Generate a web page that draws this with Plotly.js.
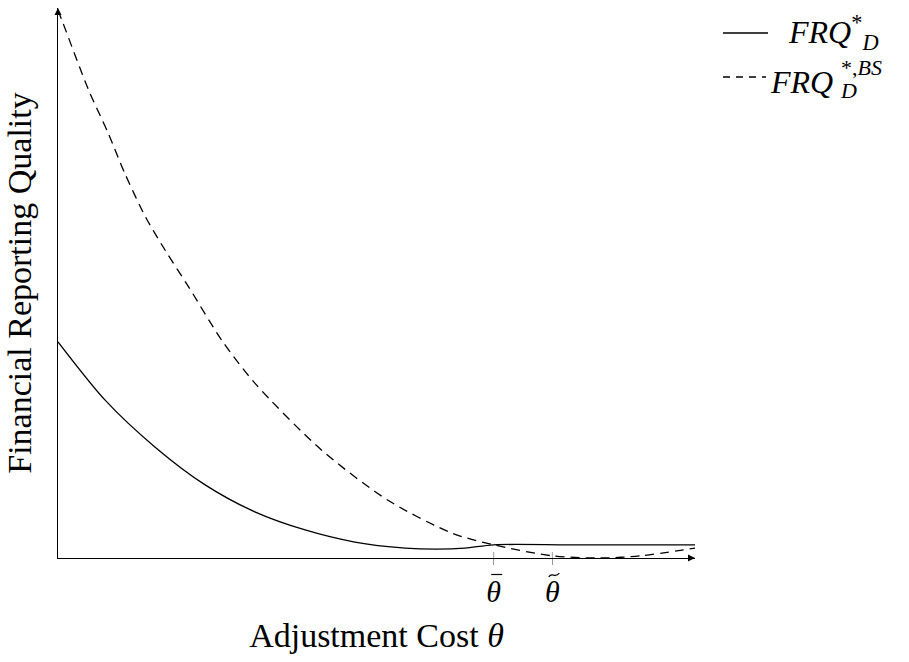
<!DOCTYPE html>
<html>
<head>
<meta charset="utf-8">
<script src="https://cdn.plot.ly/plotly-3.0.1.min.js"></script>
<style>html,body{margin:0;padding:0;background:#fff;}#chart{width:909px;height:662px;}</style>
</head>
<body>
<div id="chart"></div>
<script>
// Adjustment cost (x) and financial reporting quality (y)
const thetaD = [0, 0.74, 1.52, 2.31, 3.09, 3.88, 4.66, 5.45, 5.95, 6.39, 6.84, 8.0, 9.0, 10];
const frqD   = [3.93, 2.87, 2.02, 1.33, 0.84, 0.51, 0.29, 0.18, 0.16, 0.18, 0.24, 0.24, 0.24, 0.24];
const thetaBS = [0, 0.08, 0.48, 0.79, 1.05, 1.37, 1.68, 2.05, 2.57, 3.09, 4.14, 5.18, 6.19, 6.84, 7.76, 8.51, 9.14, 10];
const frqBS   = [9.96, 9.72, 8.51, 7.72, 6.99, 6.21, 5.60, 4.93, 3.96, 3.18, 1.96, 1.05, 0.45, 0.24, 0.04, 0.0, 0.04, 0.18];
const tickVals = [6.84, 7.76];
const tickBase = ['θ', 'θ'];
const tickAccents = ['bar', 'tilde'];
const seriesNames = ['FRQ', 'FRQ'];
const seriesSup = ['*', '*,<i>BS</i>'];
const seriesSub = ['<i>D</i>', '<i>D</i>'];
const xTitle = 'Adjustment Cost <i>θ</i>';
const yTitle = 'Financial Reporting Quality';
const xMax = 10, yMax = 10;

const serif = 'Liberation Serif, DejaVu Serif, serif';

const traces = [
  {x: thetaD, y: frqD, mode: 'lines', line: {color: '#000', width: 1.3, shape: 'spline', smoothing: 0.8}, showlegend: false, hoverinfo: 'skip'},
  {x: thetaBS, y: frqBS, mode: 'lines', line: {color: '#000', width: 1.3, dash: '9px,6px', shape: 'spline', smoothing: 0.8}, showlegend: false, hoverinfo: 'skip'},
  // axis arrowheads at the ends of the axes
  {x: [0, xMax], y: [yMax, 0], mode: 'markers', cliponaxis: false, showlegend: false, hoverinfo: 'skip',
   marker: {symbol: ['arrow-up', 'arrow-right'], size: 7, color: '#000', line: {width: 0}}}
];

function px(x){return (x-58)/637;}
function py(y){return (558-y)/550;}
const pxPerUnit = 63.7;
function dx(v, off){return v + off / pxPerUnit;}

const shapes = tickVals.map(v => ({type: 'line', xref: 'x', yref: 'y', x0: v, x1: v, y0: 0, y1: 0.11, line: {color: '#999', width: 1}}));
// accents over the tick symbols
tickVals.forEach((v, i) => {
  if (tickAccents[i] === 'bar') {
    shapes.push({type: 'line', xref: 'x', yref: 'paper', x0: dx(v, -2.5), x1: dx(v, 8.5), y0: py(574.5), y1: py(574.5), line: {color: '#000', width: 1.2}});
  } else {
    const a = -3.5;
    const path = 'M ' + dx(v, a) + ',' + py(577) +
      ' C ' + dx(v, a + 3) + ',' + py(571.5) + ' ' + dx(v, a + 6.5) + ',' + py(579) + ' ' + dx(v, a + 10.5) + ',' + py(573);
    shapes.push({type: 'path', xref: 'x', yref: 'paper', path: path, line: {color: '#000', width: 1.2}});
  }
});
// legend samples
shapes.push({type: 'line', xref: 'paper', yref: 'paper', x0: px(723), x1: px(768), y0: py(33), y1: py(33), line: {color: '#000', width: 1.3}});
shapes.push({type: 'line', xref: 'paper', yref: 'paper', x0: px(723), x1: px(766), y0: py(77), y1: py(77), line: {color: '#000', width: 1.3, dash: '7px,6px'}});

const ann = [
  // legend row 1
  {x: px(786), y: py(33), xref: 'paper', yref: 'paper', xanchor: 'left', yanchor: 'middle', showarrow: false,
   text: '<i>' + seriesNames[0] + '</i><sup>' + seriesSup[0] + '</sup><sub>' + seriesSub[0] + '</sub>', font: {family: serif, size: 32, color: '#000'}},
  // legend row 2
  {x: px(768), y: py(82), xref: 'paper', yref: 'paper', xanchor: 'left', yanchor: 'middle', showarrow: false, text: '<i>' + seriesNames[1] + '</i>', font: {family: serif, size: 32, color: '#000'}},
  {x: px(838), y: py(79), xref: 'paper', yref: 'paper', xanchor: 'left', yanchor: 'middle', align: 'left', showarrow: false,
   text: '<span style="font-size:22px">' + seriesSup[1] + '</span><br><span style="font-size:22px">' + seriesSub[1] + '</span>', font: {family: serif, size: 18, color: '#000'}}
];

const layout = {
  width: 909, height: 662,
  margin: {l: 58, r: 214, t: 8, b: 104},
  paper_bgcolor: '#fff', plot_bgcolor: '#fff',
  showlegend: false,
  xaxis: {
    range: [0, xMax], showgrid: false, zeroline: false, showline: true, linecolor: '#000', linewidth: 1.3,
    tickvals: tickVals, ticktext: tickBase.map(t => '<i>' + t + '</i>'),
    ticks: 'outside', ticklen: 6, tickcolor: '#999', tickwidth: 1,
    ticklabelstandoff: 1,
    tickfont: {family: serif, size: 30, color: '#000'},
    title: {text: xTitle, font: {family: serif, size: 34, color: '#000'}, standoff: 16},
    fixedrange: true
  },
  yaxis: {
    range: [0, yMax], showgrid: false, zeroline: false, showline: true, linecolor: '#000', linewidth: 1.3,
    showticklabels: false, ticks: '',
    title: {text: yTitle, font: {family: serif, size: 34, color: '#000'}, standoff: 14},
    fixedrange: true
  },
  shapes: shapes,
  annotations: ann
};

Plotly.newPlot('chart', traces, layout, {displayModeBar: false, staticPlot: true});
</script>
</body>
</html>
